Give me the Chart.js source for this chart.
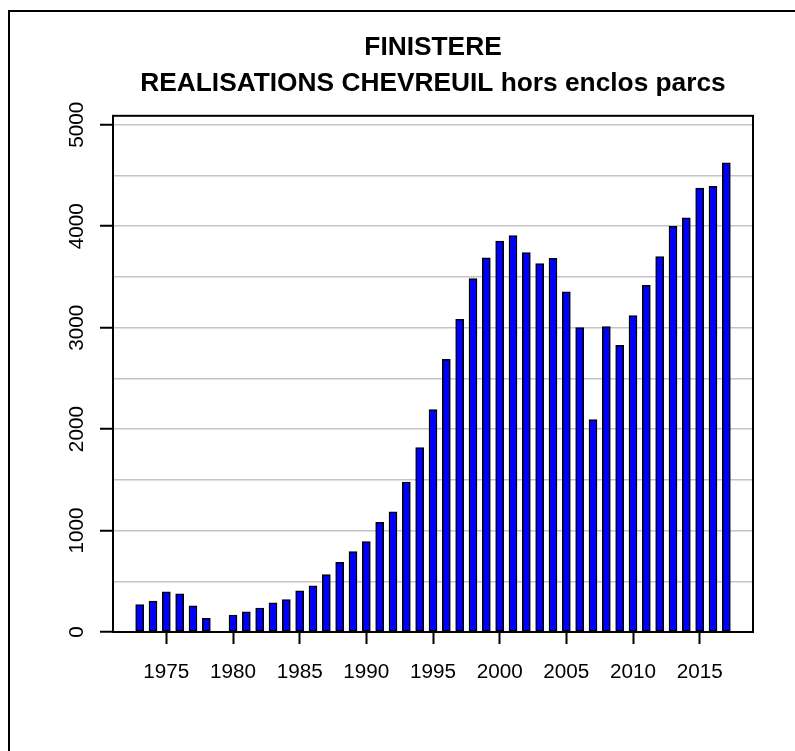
<!DOCTYPE html>
<html>
<head>
<meta charset="utf-8">
<script src="https://cdn.jsdelivr.net/npm/chart.js@4"></script>
<style>
  html, body { margin: 0; padding: 0; background: #fff; overflow: hidden; }
  #wrap { position: relative; width: 795px; height: 751px; }
  #frame { position: absolute; left: 8px; top: 10px; width: 900px; height: 900px;
           border-left: 2px solid #000; border-top: 2px solid #000; pointer-events: none; }
</style>
</head>
<body>
<div id="wrap">
  <canvas id="chevreuilChart" width="795" height="751"></canvas>
  <div id="frame"></div>
</div>
<script>
const years = [1973, 1974, 1975, 1976, 1977, 1978, 1979,
    1980, 1981, 1982, 1983, 1984, 1985, 1986, 1987, 1988, 1989,
    1990, 1991, 1992, 1993, 1994, 1995, 1996, 1997, 1998, 1999,
    2000, 2001, 2002, 2003, 2004, 2005, 2006, 2007, 2008, 2009,
    2010, 2011, 2012, 2013, 2014, 2015, 2016, 2017];
const realisations = [271, 305, 395, 377, 257, 134, 0,
    168, 199, 237, 288, 319, 405, 456, 566, 686, 793,
    892, 1081, 1184, 1479, 1817, 2193, 2687, 3082, 3483, 3689,
    3854, 3909, 3741, 3631, 3683, 3353, 3000, 2094, 3010, 2825,
    3120, 3418, 3700, 3998, 4084, 4376, 4393, 4626];
const yearTicks = [1975, 1980, 1985, 1990, 1995, 2000, 2005, 2010, 2015];
const valueTicks = [0, 500, 1000, 1500, 2000, 2500, 3000, 3500, 4000, 4500, 5000];
const titleLines = ['FINISTERE', 'REALISATIONS CHEVREUIL hors enclos parcs'];

document.addEventListener("DOMContentLoaded", function () {
    const ctx = document.getElementById('chevreuilChart').getContext('2d');
    const tickFont = { family: 'Liberation Sans, Arial, sans-serif', size: 20.7 };

    // box round the plot region, like R's box()
    const plotBox = {
        id: 'plotBox',
        afterDatasetsDraw(chart) {
            const a = chart.chartArea;
            const c = chart.ctx;
            c.save();
            c.strokeStyle = '#000';
            c.lineWidth = 2;
            c.strokeRect(a.left, a.top, a.right - a.left, a.bottom - a.top);
            c.restore();
        }
    };

    const data = {
        datasets: [{
            label: 'Réalisations',
            data: years.map((y, i) => ({ x: y, y: realisations[i] })),
            backgroundColor: '#0000ff',
            borderColor: '#000',
            borderWidth: 1.5,
            borderSkipped: false,
            barThickness: 8
        }]
    };

    const options = {
        responsive: false,
        animation: false,
        devicePixelRatio: 1,
        layout: { padding: { left: 0, right: 42, top: 0, bottom: 0 } },
        plugins: {
            legend: { display: false },
            tooltip: { enabled: false },
            title: {
                display: true,
                fullSize: false,
                text: titleLines,
                color: '#000',
                font: { family: 'Liberation Sans, Arial, sans-serif', size: 26.3, weight: 'bold', lineHeight: 1.35 },
                padding: { top: 30, bottom: 14.8 }
            }
        },
        scales: {
            x: {
                type: 'linear',
                min: 1971,
                max: 2019,
                offset: false,
                afterBuildTicks: s => { s.ticks = yearTicks.map(v => ({ value: v })); },
                afterFit: s => { s.height = 119; },
                grid: { offset: false, drawOnChartArea: false, drawTicks: true, tickLength: 12, tickColor: '#000', tickWidth: 2 },
                border: { display: false },
                ticks: { color: '#000', font: tickFont, padding: 16, maxRotation: 0, autoSkip: false, callback: v => String(v) }
            },
            y: {
                min: 0,
                max: Math.max(...realisations) * 1.1,
                afterBuildTicks: s => { s.ticks = valueTicks.map(v => ({ value: v })); },
                afterFit: s => { s.width = 113; },
                grid: {
                    color: '#c4c4c4',
                    lineWidth: 1.5,
                    tickLength: 13,
                    tickWidth: 2,
                    tickColor: c => (c.tick && c.tick.value % 1000 === 0) ? '#000' : 'rgba(0,0,0,0)'
                },
                border: { display: false },
                ticks: {
                    color: '#000', font: tickFont, padding: 0, autoSkip: false,
                    minRotation: 90, maxRotation: 90, crossAlign: 'center',
                    callback: v => (v % 1000 === 0 ? String(v) : '')
                }
            }
        }
    };

    new Chart(ctx, { type: 'bar', data: data, options: options, plugins: [plotBox] });
});
</script>
</body>
</html>
